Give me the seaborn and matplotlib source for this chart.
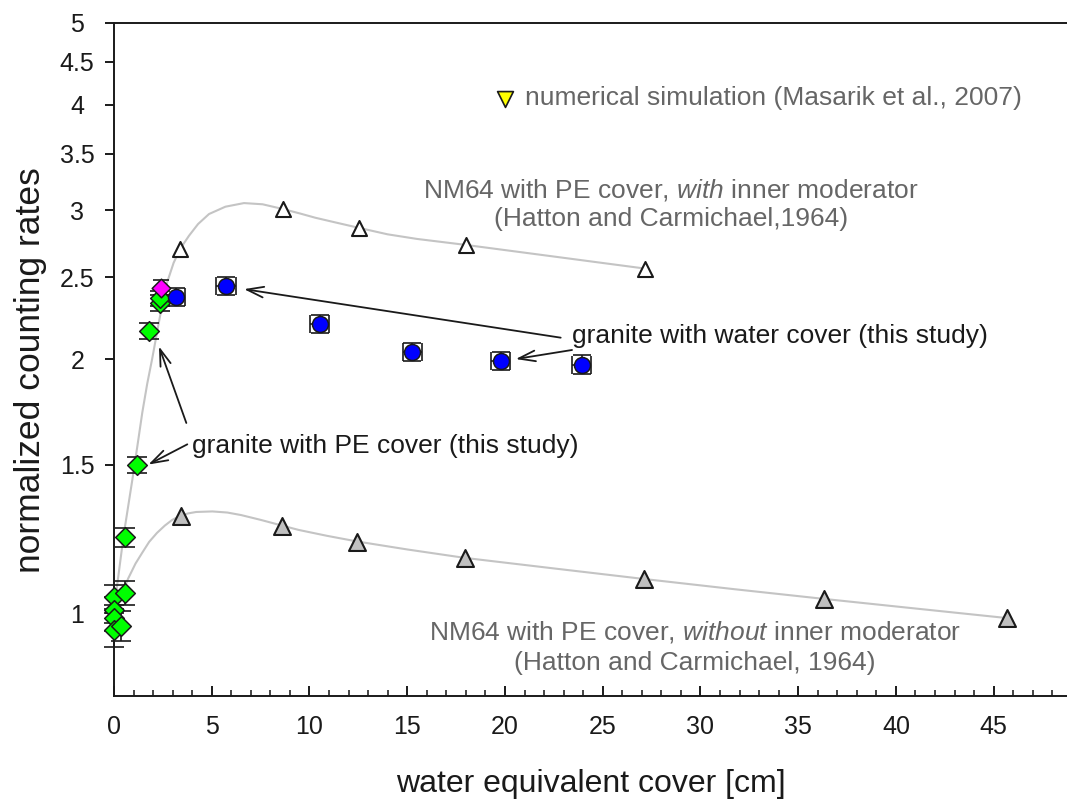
import matplotlib
matplotlib.use("Agg")
import matplotlib.pyplot as plt
import matplotlib.ticker as mticker
import pandas as pd
import seaborn as sns

# granite with PE cover (this study), green diamonds
pe_x = [0.0, 0.0, 0.0, 0.0, 0.37, 0.55, 0.55, 1.19, 1.79, 2.33, 2.33]
pe_y = [1.046, 1.010, 0.988, 0.956, 0.967, 1.057, 1.230, 1.500, 2.160, 2.330, 2.360]
pe_yerr = [0.035, 0.035, 0.035, 0.045, 0.04, 0.035, 0.033, 0.033, 0.045, 0.05, 0.05]

# single magenta diamond
mag_x = [2.38]
mag_y = [2.43]
mag_yerr = [0.05]

# granite with water cover (this study), blue circles
water_x = [3.15, 5.74, 10.52, 15.26, 19.78, 23.92]
water_y = [2.37, 2.44, 2.20, 2.04, 1.99, 1.97]
water_xerr = [0.5, 0.5, 0.5, 0.5, 0.5, 0.5]
water_yerr = [0.06, 0.06, 0.055, 0.05, 0.05, 0.05]

# Hatton and Carmichael 1964, with inner moderator (white triangles)
hw_x = [3.38, 8.66, 12.53, 17.99, 27.14]
hw_y = [2.70, 3.01, 2.86, 2.73, 2.56]

# Hatton and Carmichael 1964, without inner moderator (grey triangles)
hwo_x = [3.41, 8.6, 12.45, 17.94, 27.1, 36.3, 45.67]
hwo_y = [1.305, 1.27, 1.216, 1.163, 1.098, 1.04, 0.987]

# grey guide curves
curve_w_x = [0, 0.14, 0.5, 0.94, 1.2, 1.45, 1.7, 1.95, 2.2, 2.45, 2.73, 3.05, 3.38,
             3.84, 4.3, 4.86, 5.7, 6.65, 7.6, 8.66, 9.5, 10.3, 11.4, 12.53, 14.0,
             15.5, 18.0, 22.5, 27.14]
curve_w_y = [1.0, 1.07, 1.24, 1.44, 1.58, 1.73, 1.87, 2.0, 2.15, 2.31, 2.47, 2.60, 2.70,
             2.80, 2.89, 2.97, 3.03, 3.06, 3.05, 3.01, 2.975, 2.94, 2.90, 2.86, 2.81,
             2.775, 2.73, 2.645, 2.56]
curve_wo_x = [0, 0.3, 0.73, 1.1, 1.45, 1.8, 2.2, 2.6, 2.98, 3.41, 3.8, 4.2, 5.03, 5.8,
              6.5, 7.5, 8.6, 9.45, 10.9, 12.45, 15.0, 17.94, 22.5, 27.1, 31.7, 36.3,
              41.0, 45.67]
curve_wo_y = [1.0, 1.04, 1.10, 1.145, 1.18, 1.215, 1.245, 1.27, 1.29, 1.305, 1.313, 1.318,
              1.32, 1.316, 1.307, 1.29, 1.27, 1.255, 1.235, 1.216, 1.19, 1.163, 1.13,
              1.098, 1.068, 1.04, 1.013, 0.987]

# numerical simulation (Masarik et al., 2007)
sim_x = [20.0]
sim_y = [4.06]

yticks = [1, 1.5, 2, 2.5, 3, 3.5, 4, 4.5, 5]
ytick_labels = ["1", "1.5", "2", "2.5", "3", "3.5", "4", "4.5", "5"]
xticks = [0, 5, 10, 15, 20, 25, 30, 35, 40, 45]

sns.set_theme(style="ticks")
plt.rcParams["font.family"] = ["Liberation Sans", "DejaVu Sans"]
plt.rcParams["mathtext.fontset"] = "custom"
plt.rcParams["mathtext.rm"] = "Liberation Sans"
plt.rcParams["mathtext.it"] = "Liberation Sans:italic"

fig = plt.figure(figsize=(10.67, 8.02), dpi=100)
ax = fig.add_axes([114 / 1067, 1 - 696 / 802, 953 / 1067, 673 / 802])

grey = "#666666"
curve_col = "#c4c4c4"

# guide curves
sns.lineplot(x=curve_w_x, y=curve_w_y, sort=False, estimator=None, color=curve_col, lw=1.5, ax=ax, zorder=1)
sns.lineplot(x=curve_wo_x, y=curve_wo_y, sort=False, estimator=None, color=curve_col, lw=1.5, ax=ax, zorder=1)

# error bars
ax.errorbar(pe_x, pe_y, yerr=pe_yerr, fmt="none", ecolor="k", elinewidth=1.2,
            capsize=7, capthick=1.2, zorder=3, clip_on=False)
ax.errorbar(mag_x, mag_y, yerr=mag_yerr, fmt="none", ecolor="k", elinewidth=1.2,
            capsize=6, capthick=1.2, zorder=3)
ax.errorbar(water_x, water_y, xerr=water_xerr, yerr=water_yerr, fmt="none", ecolor="k",
            elinewidth=1.2, capsize=6.5, capthick=1.2, zorder=3)

# markers
sns.scatterplot(x=hw_x, y=hw_y, marker="^", s=117, color="white", edgecolor="k",
                linewidth=1.5, ax=ax, zorder=4, legend=False)
sns.scatterplot(x=hwo_x, y=hwo_y, marker="^", s=149, color="#c0c0c0", edgecolor="k",
                linewidth=1.5, ax=ax, zorder=4, legend=False)
sns.scatterplot(x=pe_x, y=pe_y, marker="D", s=100, color="#00ff00", edgecolor="k",
                linewidth=1.1, ax=ax, zorder=5, legend=False, clip_on=False)
sns.scatterplot(x=mag_x, y=mag_y, marker="D", s=90, color="#ff00ff", edgecolor="k",
                linewidth=1.1, ax=ax, zorder=6, legend=False)
sns.scatterplot(x=water_x, y=water_y, marker="o", s=132, color="#0000ff", edgecolor="k",
                linewidth=1.1, ax=ax, zorder=7, legend=False)
sns.scatterplot(x=sim_x, y=sim_y, marker="v", s=130, color="#ffff00", edgecolor="k",
                linewidth=1.2, ax=ax, zorder=7, legend=False)

# texts
fs = 19
ax.text(21.0, 4.0, "numerical simulation (Masarik et al., 2007)", fontsize=fs,
        color=grey, ha="left", va="baseline")
ax.text(28.5, 3.107, r"NM64 with PE cover, $\it{with}$ inner moderator", fontsize=fs,
        color=grey, ha="center", va="baseline")
ax.text(28.5, 2.871, "(Hatton and Carmichael,1964)", fontsize=fs,
        color=grey, ha="center", va="baseline")
ax.text(29.7, 0.930, r"NM64 with PE cover, $\it{without}$ inner moderator", fontsize=fs,
        color=grey, ha="center", va="baseline")
ax.text(29.7, 0.857, "(Hatton and Carmichael, 1964)", fontsize=fs,
        color=grey, ha="center", va="baseline")
ax.text(23.43, 2.09, "granite with water cover (this study)", fontsize=fs,
        color="k", ha="left", va="baseline")
ax.text(3.97, 1.55, "granite with PE cover (this study)", fontsize=fs,
        color="k", ha="left", va="baseline")

arrow = dict(arrowstyle="->, head_length=1.0, head_width=0.32", color="k", lw=1.3,
             shrinkA=0, shrinkB=0)
ax.annotate("", xy=(6.65, 2.42), xytext=(22.85, 2.12), arrowprops=arrow)
ax.annotate("", xy=(20.55, 2.00), xytext=(23.43, 2.05), arrowprops=arrow)
ax.annotate("", xy=(2.30, 2.07), xytext=(3.70, 1.68), arrowprops=arrow)
ax.annotate("", xy=(1.76, 1.50), xytext=(3.75, 1.585), arrowprops=arrow)

# axes
ax.set_yscale("log")
ax.set_xlim(0, 48.75)
ax.set_ylim(0.798, 5.0)
ax.yaxis.set_major_locator(mticker.FixedLocator(yticks))
ax.yaxis.set_major_formatter(mticker.FixedFormatter(ytick_labels))
ax.yaxis.set_minor_locator(mticker.NullLocator())
ax.xaxis.set_major_locator(mticker.FixedLocator(xticks))
ax.xaxis.set_minor_locator(mticker.MultipleLocator(1))

ax.tick_params(axis="y", which="major", direction="out", length=6.5, width=1.4,
               labelsize=18, pad=20, colors="k")
ax.tick_params(axis="x", which="major", direction="in", length=7.2, width=1.4,
               labelsize=18, pad=13.5, colors="k")
ax.tick_params(axis="x", which="minor", direction="in", length=4.3, width=1.2)
for lab in ax.get_yticklabels():
    lab.set_ha("center")

for side in ["left", "bottom", "top"]:
    ax.spines[side].set_linewidth(1.4)
    ax.spines[side].set_color("k")
ax.spines["right"].set_visible(False)

ax.set_xlabel("water equivalent cover [cm]", fontsize=23, color="k")
ax.set_ylabel("normalized counting rates", fontsize=25.5, color="k")
ax.xaxis.set_label_coords(0.5, -0.1426)
ax.xaxis.label.set_va("baseline")
ax.yaxis.set_label_coords(-0.0777, 0.484)
ax.yaxis.label.set_va("baseline")

fig.savefig("out.png", dpi=100)
